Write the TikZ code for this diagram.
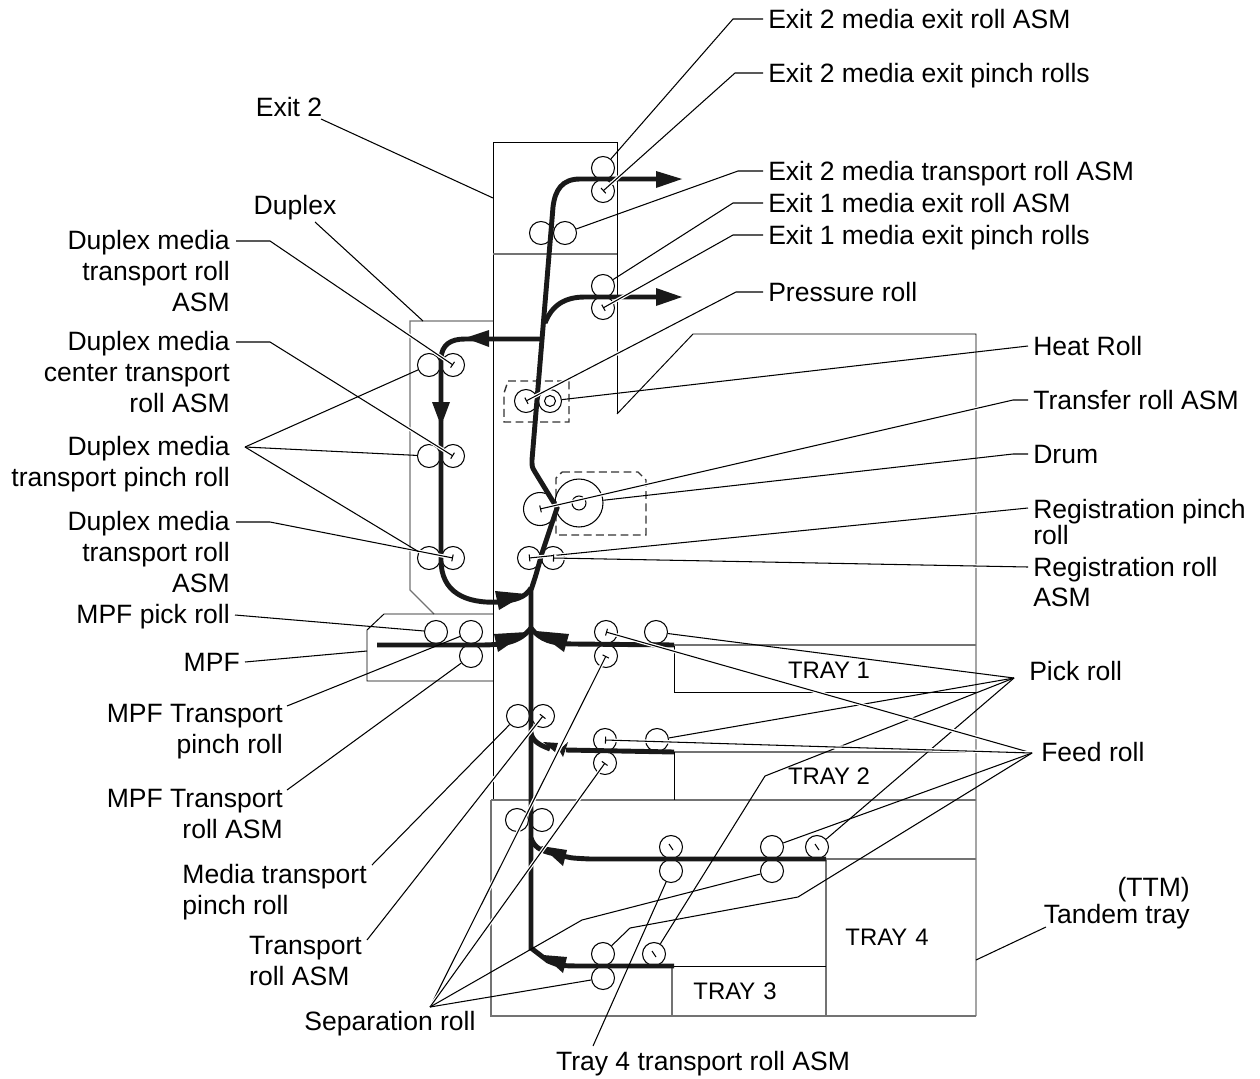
\documentclass[tikz,border=0pt]{standalone}
\usepackage{fontspec}
\setmainfont{Liberation Sans}
\usetikzlibrary{arrows.meta, calc, positioning}
\tikzset{
  roll/.style={draw, circle, inner sep=0pt, minimum size=0.46cm, line width=0.6pt},
  bigroll/.style={roll, minimum size=0.66cm},
  drumroll/.style={roll, minimum size=0.96cm},
  frame/.style={line width=0.55pt},
  grayframe/.style={line width=0.65pt, draw=black!55},
  dashbox/.style={line width=0.8pt, draw=black!80, dash pattern=on 4.5pt off 2.5pt},
  media/.style={line width=2.8pt, draw=black!90},
  head/.style={fill=black!90, draw=none},
  leader/.style={line width=0.6pt},
  halo/.style={preaction={draw=white, line width=2pt}},
  pin/.style={leader, halo, -{Bar[width=4pt, length=0.5pt]}},
  lbl/.style={font=\fontsize{15.1}{17.6}\selectfont, inner sep=3pt, outer sep=0pt},
  traylbl/.style={font=\fontsize{13.6}{16}\selectfont, inner sep=0pt}
}
\begin{document}
\begin{tikzpicture}[x=0.02cm, y=-0.02cm]
\useasboundingbox (0,0) rectangle (1260,1078);
% Carcasa
\draw[frame] (617,414) -- (617,142) -- (493,142) -- (493,800);
\draw[grayframe] (493,254) -- (617,254);
\draw[frame] (617,414) -- (693,334) -- (976,334) -- (976,1016);
\draw[grayframe] (491,800) -- (976,800);
\draw[grayframe] (491,800) -- (491,1016) -- (976,1016);
% Duplex y MPF
\draw[grayframe] (493,321) -- (410,321) -- (410,590) -- (434,614);
\draw[frame] (493,614) -- (384,614) -- (367,630) -- (367,681) -- (493,681);
% Bandejas
\draw[frame] (674,645) -- (674,692) -- (976,692);
\draw[grayframe] (674,645) -- (976,645);
\draw[grayframe] (674,752) -- (976,752);
\draw[frame] (674,752) -- (674,800);
\draw[grayframe] (826,859) -- (976,859);
\draw[grayframe] (826,859) -- (826,1016);
\draw[frame] (674,966) -- (826,966);
\draw[grayframe] (672,966) -- (672,1016);
% Cajas de trazos
\draw[dashbox] (508,381) -- (569,381) -- (569,422) -- (504,422) -- (504,393) -- cycle;
\draw[dashbox] (562,472) -- (638,472) -- (646,480) -- (646,535) -- (556,535) -- (556,478) -- cycle;
% Rodillos
\foreach \name/\x/\y in {exitTwoUp/603/168, exitTwoLow/603/191, exitTwoL/541/233, exitTwoR/565/233,
    exitOneUp/603/286, exitOneLow/603/308, press/526/401, heat/550/401,
    dupAL/429/365, dupAR/453/365, dupBL/429/456, dupBR/453/456, dupCL/429/558, dupCR/453/558,
    regL/529/558, regR/553/558, mpfPick/436/632, mpfUp/471/632, mpfLow/471/656,
    oneFeed/606/632, onePick/656/632, oneSep/606/656,
    midL/518/716, midR/543/716, twoFeed/605/740, twoPick/657/740, twoSep/605/763,
    lowL/517/820, lowR/542/820, fourUp/671/847, fourLow/671/871,
    fourFeed/772/847, fourSep/772/871, fourPick/817/847,
    threeFeed/603/954, threeSep/603/978, threePick/654/954} {
  \node[roll] (\name) at (\x,\y) {};
}
\node[bigroll] (transfer) at (540,509) {};
\node[drumroll] (drum) at (579,503) {};
\node[roll, minimum size=0.28cm] (drumCore) at (drum.center) {};
\node[roll, minimum size=0.22cm] (heatCore) at (heat.center) {};
% Marcas dentro de los rodillos
\foreach \name in {fourUp, fourPick, threePick} {
  \draw[leader] ($(\name)+(-2,-3)$) -- ($(\name)+(2,3)$);
}
% Recorrido del papel
\draw[media] (531,950) -- (531,590) .. controls (536,575) .. (542,553) -- (557,508) -- (535,472)
  .. controls (532,467) .. (532,460) -- (553,207) .. controls (555,190) and (562,179) .. (580,179) -- (660,179);
\draw[media] (545,323) .. controls (552,305) and (565,297) .. (585,297) -- (660,297);
\draw[media] (541,339) -- (465,339) .. controls (450,339) and (442,345) .. (441,358) -- (441,405);
\draw[media] (441,420) -- (441,560) .. controls (441,592) and (465,604) .. (500,602) .. controls (515,600) and (525,598) .. (531,588);
\draw[media] (377,645) -- (480,645) .. controls (505,645) and (520,642) .. (531,628);
\draw[media] (531,628) .. controls (540,640) and (552,644) .. (575,644) -- (674,645);
\draw[media] (531,733) .. controls (533,742) and (540,745) .. (550,749);
\draw[media] (566,750) -- (674,752);
\draw[media] (531,838) .. controls (535,850) and (545,852) .. (560,855) .. controls (570,858) .. (590,859) -- (826,859);
\draw[media] (531,948) -- (548,961) .. controls (560,966) .. (590,966) -- (674,966);
% Puntas de flecha
\fill[head] (656,171) -- (682,179) -- (656,188) -- cycle;
\fill[head] (656,288) -- (682,297) -- (656,306) -- cycle;
\fill[head] (489,330) -- (465,338) -- (489,347) -- cycle;
\fill[head] (432,402) -- (450,402) -- (441,426) -- cycle;
\fill[head] (495,591) -- (499,610) -- (526,594) -- cycle;
\fill[head] (494,634) -- (498,652) -- (527,632) -- cycle;
\fill[head] (569,634) -- (564,652) -- (536,631) -- cycle;
\fill[head] (568,742) -- (563,757) -- (559,750) -- cycle;
\fill[head] (543,742) -- (558,743) -- (555,752) -- cycle;
\fill[head] (541,846) -- (567,850) -- (563,866) -- cycle;
\fill[head] (543,955) -- (567,957) -- (563,973) -- cycle;
% Textos de la derecha
\node[lbl, anchor=west] (exitTwoRollLbl) at (763,19) {Exit 2 media exit roll ASM};
\node[lbl, anchor=west] (exitTwoPinchLbl) at (763,76) {Exit 2 media exit pinch rolls};
\node[lbl, anchor=west] (exitTwoTransLbl) at (763,174) {Exit 2 media transport roll ASM};
\node[lbl, anchor=west] (exitOneRollLbl) at (763,203) {Exit 1 media exit roll ASM};
\node[lbl, anchor=west] (exitOnePinchLbl) at (763,238) {Exit 1 media exit pinch rolls};
\node[lbl, anchor=west] (pressLbl) at (763,292) {Pressure roll};
\node[lbl, anchor=west] (heatLbl) at (1028,346) {Heat Roll};
\node[lbl, anchor=west] (transferLbl) at (1028,400) {Transfer roll ASM};
\node[lbl, anchor=west] (drumLbl) at (1028,454) {Drum};
\node[lbl, anchor=west, align=left, font=\fontsize{15.1}{14.6}\selectfont] (regPinchLbl) at (1028,522) {Registration pinch\\roll};
\node[lbl, anchor=west, align=left] (regRollLbl) at (1028,582) {Registration roll\\ASM};
\node[lbl, anchor=west] (pickLbl) at (1024,671) {Pick roll};
\node[lbl, anchor=west] (feedLbl) at (1036,752) {Feed roll};
\node[lbl, anchor=east, align=right, font=\fontsize{15.1}{14}\selectfont] (tandemLbl) at (1195,903) {(TTM)\\Tandem tray};
% Textos de la izquierda
\node[lbl] (exitTwoLbl) at (289,107) {Exit 2};
\node[lbl] (duplexLbl) at (295,208) {Duplex};
\node[lbl, anchor=east, align=right] (dupTopLbl) at (235,271) {Duplex media\\transport roll\\ASM};
\node[lbl, anchor=east, align=right] (dupCenterLbl) at (235,372) {Duplex media\\center transport\\roll ASM};
\node[lbl, anchor=east, align=right] (dupPinchLbl) at (235,464) {Duplex media\\transport pinch roll};
\node[lbl, anchor=east, align=right] (dupLowLbl) at (235,552) {Duplex media\\transport roll\\ASM};
\node[lbl, anchor=east] (mpfPickLbl) at (235,617) {MPF pick roll};
\node[lbl, anchor=east] (mpfLbl) at (245,662) {MPF};
\node[lbl, anchor=east, align=right] (mpfPinchLbl) at (288,732) {MPF Transport\\pinch roll};
\node[lbl, anchor=east, align=right] (mpfRollLbl) at (288,814) {MPF Transport\\roll ASM};
\node[lbl, anchor=east, align=left] (mediaPinchLbl) at (372,892) {Media transport\\pinch roll};
\node[lbl, anchor=east, align=left] (transRollLbl) at (367,961) {Transport\\roll ASM};
\node[lbl] (sepLbl) at (390,1024) {Separation roll};
\node[lbl] (fourTransLbl) at (703,1064) {Tray 4 transport roll ASM};
% Bandejas: textos
\node[traylbl] (oneLbl) at (829,670) {TRAY 1};
\node[traylbl] (twoLbl) at (829,776) {TRAY 2};
\node[traylbl] (threeLbl) at (735,991) {TRAY\,\,3};
\node[traylbl] (fourLbl) at (887,937) {TRAY\,\,4};
% Puntos libres de las lineas guia
\coordinate (dupTopEnd) at (236,241);
\coordinate (dupCenterEnd) at (236,342);
\coordinate (dupLowEnd) at (236,522);
\coordinate (dupFork) at (245,447);
\coordinate (pickFork) at (1014,678);
\coordinate (feedFork) at (1032,753);
\coordinate (sepFork) at (430,1007);
\coordinate (regPinchEnd) at (1028,508);
\coordinate (regRollEnd) at (1028,567);
\coordinate (exitTwoEnd) at (321,119);
\coordinate (exitTwoBox) at (493,198);
\coordinate (duplexEnd) at (315,222);
\coordinate (duplexBox) at (423,321);
\coordinate (mpfBox) at (367,651);
\coordinate (tandemBox) at (976,960);
\coordinate (tandemEnd) at (1046,927);
\coordinate (fourTransEnd) at (593,1046);
\coordinate (mpfPinchEnd) at (287,706);
\coordinate (mpfRollEnd) at (287,790);
\coordinate (mediaPinchEnd) at (372,865);
\coordinate (transRollEnd) at (367,940);
% Lineas guia derecha
\draw[leader] (exitTwoRollLbl.west) -- ++(-30,0) -- (exitTwoUp);
\draw[pin] (exitTwoPinchLbl.west |- 0,73) -- ++(-28,0) -- (exitTwoLow.center);
\draw[leader] (exitTwoTransLbl.west |- 0,171) -- ++(-25,0) -- (exitTwoR);
\draw[leader] (exitOneRollLbl.west) -- ++(-30,0) -- (exitOneUp);
\draw[pin] (exitOnePinchLbl.west |- 0,235) -- ++(-30,0) -- (exitOneLow.center);
\draw[pin] (pressLbl.west) -- ++(-27,0) -- (press.center);
\draw[leader] (heatLbl.west) -- (heat);
\draw[pin] (transferLbl.west) -- ++(-15,0) -- (transfer.center);
\draw[leader] (drumLbl.west) -- ++(-15,0) -- (drum);
\draw[pin] (regPinchEnd) -- (regL.center);
\draw[pin] (regRollEnd) -- (regR.center);
\draw[leader] (pickFork) -- (onePick);
\draw[leader] (pickFork) -- (twoPick);
\draw[leader] (pickFork) -- (fourPick);
\draw[leader] (pickFork) -- (765,776) -- (threePick);
\draw[pin] (feedFork) -- (oneFeed.center);
\draw[pin] (feedFork) -- (twoFeed.center);
\draw[leader] (feedFork) -- (fourFeed);
\draw[leader] (feedFork) -- (798,897) -- (630,928) -- (threeFeed);
\draw[leader] (tandemEnd) -- (tandemBox);
% Lineas guia izquierda
\draw[leader] (exitTwoEnd) -- (exitTwoBox);
\draw[leader] (duplexEnd) -- (duplexBox);
\draw[pin] (dupTopEnd) -- ++(34,0) -- (dupAR.center);
\draw[pin] (dupCenterEnd) -- ++(34,0) -- (dupBR.center);
\draw[pin] (dupLowEnd) -- ++(34,0) -- (dupCR.center);
\draw[leader] (dupFork) -- (dupAL);
\draw[leader] (dupFork) -- (dupBL);
\draw[leader] (dupFork) -- (dupCL);
\draw[leader] (mpfPickLbl.east |- 0,615) -- (mpfPick);
\draw[leader] (mpfLbl.east) -- (mpfBox);
\draw[leader] (mpfPinchEnd) -- (mpfUp);
\draw[leader] (mpfRollEnd) -- (mpfLow);
\draw[leader] (mediaPinchEnd) -- (midL);
\draw[pin] (transRollEnd) -- (midR.center);
\draw[pin] (sepFork) -- (oneSep.center);
\draw[pin] (sepFork) -- (twoSep.center);
\draw[leader] (sepFork) -- (582,920) -- (fourSep);
\draw[leader] (sepFork) -- (threeSep);
\draw[leader] (fourTransEnd) -- (fourLow);
\end{tikzpicture}
\end{document}
